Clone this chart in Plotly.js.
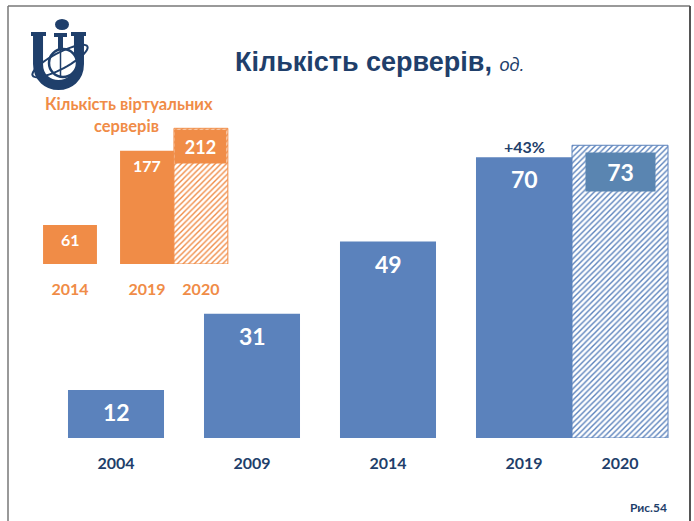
<!DOCTYPE html>
<html>
<head>
<meta charset="utf-8">
<script src="https://cdn.plot.ly/plotly-3.0.1.min.js"></script>
<style>html,body{margin:0;padding:0;background:#fff;}#chart{width:694px;height:521px;}</style>
</head>
<body>
<div id="chart"></div>
<script>
// ---- data ----
const mainYears = ["2004", "2009", "2014", "2019"];
const mainValues = [12, 31, 49, 70];
const projYear = "2020";
const projValue = 73;
const growthLabel = "+43%";

const virtYears = ["2014", "2019"];
const virtValues = [61, 177];
const virtProjYear = "2020";
const virtProjValue = 212;

const chartTitle = "Кількість серверів,";
const unitLabel = "од.";
const insetTitleLines = ["Кількість віртуальних", "серверів"];
const figLabel = "Рис.54";

// ---- style ----
const W = 694, H = 521;
const BLUE = "#5B82BC";
const BLUE_BOX = "#5A85B1";
const ORANGE = "#F08C47";
const NAVY = "#1F3F6B";
const LBL_FONT = "Lato, 'Open Sans', sans-serif";
const px = v => v / W;
const py = v => 1 - v / H;

const BW = 0.706;   // main bar width (category units)
const IW = 0.70;    // inset bar width
const PAT = { shape: "/", bgcolor: "white", size: 4, solidity: 0.35 };

const traces = [
  { type: "bar", x: mainYears, y: mainValues, width: BW, xaxis: "x", yaxis: "y",
    marker: { color: BLUE, line: { width: 0 } }, hoverinfo: "none" },
  { type: "bar", x: [mainYears[mainYears.length - 1]], y: [projValue], width: [BW], offset: [BW / 2],
    xaxis: "x", yaxis: "y",
    marker: { color: BLUE, line: { color: BLUE, width: 1 },
      pattern: Object.assign({ fgcolor: BLUE }, PAT) }, hoverinfo: "none" },
  { type: "bar", x: virtYears, y: virtValues, width: IW, xaxis: "x2", yaxis: "y2",
    marker: { color: ORANGE, line: { width: 0 } }, hoverinfo: "none" },
  { type: "bar", x: [virtYears[virtYears.length - 1]], y: [virtProjValue], width: [IW], offset: [IW / 2],
    xaxis: "x2", yaxis: "y2",
    marker: { color: ORANGE, line: { color: ORANGE, width: 1 },
      pattern: Object.assign({ fgcolor: ORANGE }, PAT) }, hoverinfo: "none" }
];

const lastIdx = mainYears.length - 1;
const projPos = lastIdx + BW;
const vLast = virtYears.length - 1;
const virtProjPos = vLast + IW;

const annotations = [];
const ann = o => annotations.push(Object.assign({ showarrow: false, xanchor: "center", yanchor: "middle" }, o));
// main value labels
mainValues.forEach((v, i) => {
  ann({ xref: "x", yref: "y", x: i, y: v, yshift: -22,
    text: "<b>" + v + "</b>", font: { family: LBL_FONT, size: 23, color: "white" } });
});
ann({ xref: "x", yref: "y", x: projPos, y: projValue, yshift: -27,
  text: "<b>" + projValue + "</b>", font: { family: LBL_FONT, size: 23, color: "white" },
  bgcolor: BLUE_BOX, width: 67, height: 36 });
ann({ xref: "x", yref: "y", x: lastIdx, y: mainValues[lastIdx], yshift: 11,
  text: "<b>" + growthLabel + "</b>", font: { family: LBL_FONT, size: 16, color: NAVY } });
// inset value labels
virtValues.forEach((v, i) => {
  ann({ xref: "x2", yref: "y2", x: i, y: v, yshift: -15,
    text: "<b>" + v + "</b>", font: { family: LBL_FONT, size: 16, color: "white" } });
});
ann({ xref: "x2", yref: "y2", x: virtProjPos, y: virtProjValue, yshift: -18,
  text: "<b>" + virtProjValue + "</b>", font: { family: LBL_FONT, size: 18, color: "white" },
  bgcolor: ORANGE, width: 49, height: 31 });
// titles
ann({ xref: "paper", yref: "paper", x: px(380), y: py(62),
  text: "<b>" + chartTitle + "</b> <i><span style='font-size:18px'>" + unitLabel + "</span></i>",
  font: { family: "'Liberation Sans', Arial, sans-serif", size: 27, color: NAVY } });
ann({ xref: "paper", yref: "paper", x: px(129), y: py(104),
  text: "<b>" + insetTitleLines[0] + "</b>", font: { family: LBL_FONT, size: 16.5, color: ORANGE } });
ann({ xref: "paper", yref: "paper", x: px(126), y: py(126),
  text: "<b>" + insetTitleLines[1] + "</b>", font: { family: LBL_FONT, size: 16.5, color: ORANGE } });
ann({ xref: "paper", yref: "paper", x: px(648), y: py(507),
  text: "<b>" + figLabel + "</b>", font: { family: LBL_FONT, size: 12, color: NAVY } });

// tilted ellipse ring for the logo (decoration)
function ellipsePath(cx, cy, a, b, angDeg) {
  const t = angDeg * Math.PI / 180;
  let p = "";
  for (let k = 0; k <= 48; k++) {
    const s = 2 * Math.PI * k / 48;
    const ex = a * Math.cos(s), ey = b * Math.sin(s);
    const X = cx + ex * Math.cos(t) - ey * Math.sin(t);
    const Y = cy + ex * Math.sin(t) + ey * Math.cos(t);
    p += (k === 0 ? "M " : " L ") + px(X).toFixed(4) + "," + py(Y).toFixed(4);
  }
  return p + " Z";
}
function pathPx(cmds) { // cmds: [["M",x,y],["L",x,y],["C",x1,y1,x2,y2,x,y]]
  return cmds.map(c => c[0] + " " + c.slice(1).reduce((a, v, i) => {
    if (i % 2 === 0) a.push(px(v).toFixed(4)); else a[a.length - 1] += "," + py(v).toFixed(4);
    return a;
  }, []).join(" ")).join(" ");
}

const paperShape = o => Object.assign({ xref: "paper", yref: "paper" }, o);
const shapes = [
  // frame
  paperShape({ type: "line", x0: px(8), x1: px(8), y0: py(6), y1: 0, line: { color: "#777", width: 1.5 } }),
  paperShape({ type: "line", x0: px(8), x1: px(690), y0: py(6), y1: py(6), line: { color: "#777", width: 1.5 } }),
  paperShape({ type: "line", x0: px(690), x1: px(690), y0: py(6), y1: 0, line: { color: "#555", width: 2 } }),
  // logo "U"
  paperShape({ type: "path", path: pathPx([["M", 38, 35], ["L", 38, 64], ["C", 38, 92, 79, 92, 79, 64], ["L", 79, 35]]),
    fillcolor: "rgba(0,0,0,0)", line: { color: NAVY, width: 10 } }),
  paperShape({ type: "rect", x0: px(31), x1: px(46), y0: py(36), y1: py(32), fillcolor: NAVY, line: { width: 0 } }),
  paperShape({ type: "rect", x0: px(71), x1: px(86), y0: py(36), y1: py(32), fillcolor: NAVY, line: { width: 0 } }),
  // logo torch stem
  paperShape({ type: "rect", x0: px(58), x1: px(63), y0: py(72), y1: py(34), fillcolor: NAVY, line: { width: 0 } }),
  paperShape({ type: "rect", x0: px(54), x1: px(67), y0: py(37), y1: py(33), fillcolor: NAVY, line: { width: 0 } }),
  // torch flame
  paperShape({ type: "circle", x0: px(55), x1: px(69), y0: py(30), y1: py(19), fillcolor: NAVY, line: { width: 0 } }),
  // globe
  paperShape({ type: "circle", x0: px(49), x1: px(77), y0: py(77), y1: py(49), fillcolor: "white", line: { color: NAVY, width: 2.5 } }),
  paperShape({ type: "line", x0: px(60.5), x1: px(60.5), y0: py(77), y1: py(49), line: { color: NAVY, width: 1.5 } }),
  // ring
  paperShape({ type: "path", path: ellipsePath(60, 61, 31, 8, -28), fillcolor: "rgba(0,0,0,0)", line: { color: NAVY, width: 2 } })
];

const layout = {
  width: W, height: H,
  margin: { l: 0, r: 0, t: 0, b: 0 },
  paper_bgcolor: "white", plot_bgcolor: "rgba(0,0,0,0)",
  showlegend: false,
  barmode: "overlay",
  xaxis: { type: "category", domain: [0, 1], range: [-116 / 136, (W - 116) / 136], anchor: "y",
    tickmode: "array", tickvals: mainYears.map((_, i) => i).concat([projPos]),
    ticktext: mainYears.concat([projYear]),
    showgrid: false, zeroline: false, showline: false, ticks: "", ticklabelstandoff: 14,
    tickfont: { family: LBL_FONT, size: 16, color: NAVY, weight: "bold" } },
  yaxis: { domain: [(H - 438) / H, 1], range: [0, 438 / 4.01], anchor: "x",
    showgrid: false, zeroline: false, showline: false, showticklabels: false, ticks: "" },
  xaxis2: { type: "category", domain: [0, 0.35], range: [-70 / 77, (0.35 * W - 70) / 77], anchor: "y2",
    tickmode: "array", tickvals: virtYears.map((_, i) => i).concat([virtProjPos]),
    ticktext: virtYears.concat([virtProjYear]),
    showgrid: false, zeroline: false, showline: false, ticks: "", ticklabelstandoff: 14,
    tickfont: { family: LBL_FONT, size: 16, color: ORANGE, weight: "bold" } },
  yaxis2: { domain: [(H - 264) / H, 1], range: [0, 264 / 0.64], anchor: "x2",
    showgrid: false, zeroline: false, showline: false, showticklabels: false, ticks: "" },
  annotations: annotations,
  shapes: shapes
};

Plotly.newPlot("chart", traces, layout, { displayModeBar: false, staticPlot: true });
</script>
</body>
</html>
